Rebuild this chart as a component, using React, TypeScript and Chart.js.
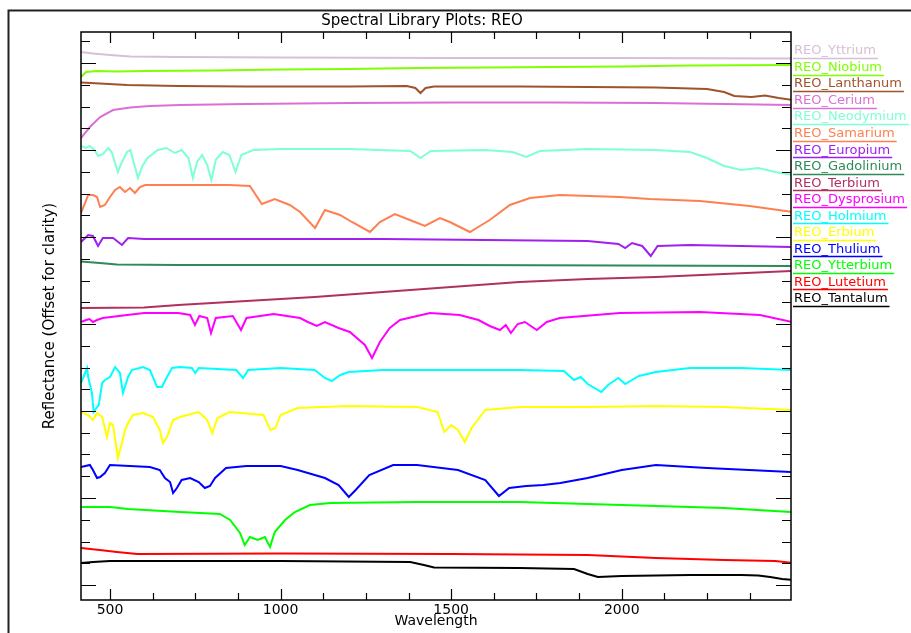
import { useEffect, useRef } from "react";
import { Chart, registerables } from "chart.js";

Chart.register(...registerables);

const FONT = "'DejaVu Sans', sans-serif";

const seriesNames = [
  "REO_Yttrium", "REO_Niobium", "REO_Lanthanum", "REO_Cerium",
  "REO_Neodymium", "REO_Samarium", "REO_Europium", "REO_Gadolinium",
  "REO_Terbium", "REO_Dysprosium", "REO_Holmium", "REO_Erbium",
  "REO_Thulium", "REO_Ytterbium", "REO_Lutetium", "REO_Tantalum",
];

const seriesColors = [
  "#d8bfd8", "#7fff00", "#a0522d", "#da70d6",
  "#7fffd4", "#ff7f50", "#a020f0", "#2e8b57",
  "#b03060", "#ff00ff", "#00ffff", "#ffff00",
  "#0000ff", "#00ff00", "#ff0000", "#000000",
];

const xTickLabels = [500, 1000, 1500, 2000];
const xMinorStep = 125;
const xMin = 415;
const xMax = 2496;
const yMin = 0;
const yMax = 56.8;
const yTickStart = 1.5;
const yMinorStep = 2.175;
const yMajorEvery = 4;

type Pt = [number, number];

const yttrium: Pt[] = [[415, 54.8], [450, 54.65], [500, 54.5], [560, 54.35], [700, 54.3], [1000, 54.25], [1500, 54.2], [2000, 54.2], [2500, 54.15]];
const niobium: Pt[] = [[415, 52.3], [430, 52.8], [460, 52.9], [520, 52.85], [600, 52.9], [800, 52.95], [1000, 53.05], [1200, 53.1], [1400, 53.2], [1600, 53.25], [1800, 53.3], [2000, 53.35], [2200, 53.45], [2500, 53.5]];
const lanthanum: Pt[] = [[415, 51.75], [470, 51.65], [550, 51.5], [700, 51.4], [900, 51.35], [1200, 51.35], [1370, 51.4], [1395, 51.2], [1410, 50.7], [1425, 51.2], [1450, 51.35], [1700, 51.35], [1900, 51.3], [2100, 51.25], [2250, 51.1], [2300, 50.8], [2330, 50.4], [2380, 50.3], [2420, 50.45], [2460, 50.2], [2500, 50.0]];
const cerium: Pt[] = [[415, 46.2], [441, 47.3], [471, 48.3], [509, 49.0], [559, 49.25], [617, 49.4], [705, 49.5], [900, 49.6], [1200, 49.7], [1500, 49.75], [1800, 49.75], [2100, 49.7], [2300, 49.6], [2500, 49.5]];
const neodymium: Pt[] = [[415, 45.4], [430, 45.2], [440, 45.4], [455, 45.0], [465, 44.4], [480, 44.6], [495, 45.2], [505, 44.8], [512, 44.0], [523, 42.8], [535, 43.8], [550, 44.8], [560, 45.0], [570, 43.7], [582, 42.2], [595, 43.4], [610, 44.2], [640, 45.0], [665, 45.2], [690, 44.7], [710, 45.0], [730, 44.2], [743, 42.2], [755, 43.8], [770, 44.5], [785, 43.5], [797, 42.0], [810, 44.0], [830, 44.8], [850, 44.5], [868, 42.8], [885, 44.5], [920, 45.0], [1000, 45.1], [1200, 45.1], [1380, 44.9], [1410, 44.2], [1440, 44.9], [1600, 45.0], [1680, 44.8], [1720, 44.3], [1760, 44.9], [1900, 45.1], [2100, 45.0], [2200, 44.8], [2250, 44.2], [2300, 43.4], [2350, 43.0], [2400, 43.2], [2450, 42.8], [2500, 42.5]];
const samarium: Pt[] = [[415, 38.7], [427, 39.7], [436, 40.5], [450, 40.5], [462, 40.3], [471, 39.3], [485, 39.5], [500, 40.3], [515, 41.0], [529, 41.3], [544, 40.8], [559, 41.2], [573, 40.7], [588, 41.3], [603, 41.5], [700, 41.5], [850, 41.5], [910, 41.4], [945, 39.6], [983, 40.1], [1027, 39.5], [1057, 38.8], [1101, 37.2], [1130, 39.0], [1174, 38.5], [1209, 37.8], [1262, 36.8], [1291, 37.8], [1335, 38.6], [1379, 38.0], [1423, 37.4], [1467, 38.2], [1496, 37.8], [1555, 36.8], [1584, 37.4], [1613, 38.0], [1672, 39.5], [1731, 40.2], [1818, 40.5], [1994, 40.3], [2082, 40.1], [2229, 39.9], [2375, 39.4], [2500, 38.8]];
const europium: Pt[] = [[415, 35.8], [436, 36.5], [450, 36.4], [465, 35.4], [479, 36.2], [509, 36.2], [535, 35.5], [553, 36.2], [600, 36.1], [700, 36.1], [1000, 36.1], [1300, 36.1], [1600, 36.0], [1900, 35.9], [1990, 35.6], [2010, 35.2], [2030, 35.7], [2060, 35.4], [2085, 34.4], [2105, 35.4], [2200, 35.5], [2350, 35.4], [2500, 35.3]];
const gadolinium: Pt[] = [[415, 33.85], [470, 33.7], [520, 33.55], [700, 33.5], [1000, 33.5], [1500, 33.5], [2000, 33.45], [2500, 33.4]];
const terbium: Pt[] = [[415, 29.2], [600, 29.25], [700, 29.5], [900, 29.9], [1100, 30.3], [1300, 30.8], [1500, 31.3], [1700, 31.8], [1900, 32.1], [2100, 32.3], [2300, 32.6], [2500, 32.9]];
const dysprosium: Pt[] = [[415, 27.8], [430, 28.0], [440, 28.1], [450, 27.8], [462, 28.0], [479, 28.2], [550, 28.5], [600, 28.7], [700, 28.7], [735, 28.5], [749, 27.5], [762, 28.4], [785, 28.2], [796, 26.7], [810, 28.2], [860, 28.4], [884, 27.0], [900, 28.2], [980, 28.6], [1057, 28.2], [1080, 27.8], [1106, 27.4], [1130, 27.8], [1170, 27.2], [1203, 26.8], [1247, 25.5], [1268, 24.2], [1291, 25.8], [1320, 27.2], [1350, 28.0], [1438, 28.7], [1525, 28.5], [1580, 28.0], [1613, 27.4], [1643, 27.0], [1660, 27.5], [1675, 26.7], [1695, 27.6], [1716, 27.8], [1751, 27.0], [1780, 27.8], [1818, 28.2], [1994, 28.7], [2229, 28.8], [2405, 28.5], [2500, 27.8]];
const holmium: Pt[] = [[415, 21.7], [433, 23.2], [436, 22.3], [447, 20.7], [452, 18.8], [462, 19.3], [467, 19.5], [477, 21.7], [485, 22.0], [500, 22.3], [515, 23.3], [529, 22.7], [538, 20.7], [553, 22.3], [564, 23.0], [597, 23.3], [617, 23.0], [638, 21.3], [652, 21.3], [667, 22.3], [682, 23.2], [705, 23.3], [740, 23.2], [750, 22.7], [760, 23.2], [870, 23.0], [890, 22.2], [905, 23.0], [1000, 23.2], [1100, 23.0], [1130, 22.2], [1150, 21.9], [1175, 22.5], [1200, 22.8], [1300, 23.0], [1500, 23.0], [1700, 23.0], [1830, 22.9], [1860, 22.0], [1880, 22.3], [1900, 21.6], [1940, 20.8], [1960, 21.5], [1990, 22.2], [2010, 21.6], [2050, 22.4], [2100, 22.8], [2200, 23.2], [2350, 23.2], [2500, 23.0]];
const erbium: Pt[] = [[415, 18.8], [436, 18.5], [450, 18.0], [462, 18.7], [477, 18.3], [491, 16.3], [500, 17.7], [509, 17.5], [523, 14.2], [535, 15.7], [544, 17.0], [553, 17.7], [567, 18.5], [597, 18.7], [626, 18.3], [646, 17.0], [655, 15.7], [667, 16.3], [685, 18.0], [705, 18.3], [760, 18.8], [785, 18.0], [800, 16.7], [815, 18.2], [850, 18.8], [950, 18.5], [970, 17.0], [985, 17.2], [1000, 18.5], [1050, 19.2], [1200, 19.4], [1400, 19.3], [1460, 18.8], [1480, 16.8], [1500, 17.5], [1520, 17.0], [1540, 15.8], [1560, 17.2], [1600, 19.0], [1700, 19.3], [1900, 19.3], [2100, 19.4], [2300, 19.3], [2500, 19.0]];
const thulium: Pt[] = [[415, 13.3], [441, 13.5], [450, 13.0], [462, 12.2], [471, 12.3], [485, 12.7], [500, 13.5], [617, 13.3], [646, 13.0], [661, 12.2], [676, 11.8], [685, 10.7], [696, 11.2], [710, 12.0], [735, 12.2], [760, 11.8], [778, 11.2], [793, 11.4], [808, 12.2], [840, 13.2], [900, 13.4], [1000, 13.4], [1050, 13.0], [1130, 12.2], [1170, 11.5], [1200, 10.3], [1220, 11.0], [1260, 12.5], [1330, 13.5], [1400, 13.5], [1520, 13.0], [1600, 12.0], [1640, 10.4], [1670, 11.2], [1720, 11.4], [1770, 11.5], [1820, 11.7], [1900, 12.2], [2000, 13.0], [2100, 13.5], [2250, 13.2], [2500, 12.8]];
const ytterbium: Pt[] = [[415, 9.3], [500, 9.3], [553, 9.1], [705, 8.8], [822, 8.6], [852, 8.0], [881, 6.7], [895, 5.5], [910, 6.3], [933, 6.0], [954, 6.3], [969, 5.3], [983, 6.8], [1013, 8.0], [1042, 8.8], [1086, 9.5], [1145, 9.7], [1400, 9.8], [1700, 9.8], [2000, 9.5], [2300, 9.2], [2500, 8.8]];
const lutetium: Pt[] = [[415, 5.2], [470, 5.0], [520, 4.8], [580, 4.6], [1000, 4.65], [1500, 4.6], [1900, 4.5], [2100, 4.2], [2300, 4.0], [2450, 3.9], [2500, 3.7]];
const tantalum: Pt[] = [[415, 3.7], [450, 3.8], [500, 3.9], [1000, 3.9], [1380, 3.8], [1420, 3.5], [1450, 3.25], [1700, 3.2], [1860, 3.1], [1900, 2.6], [1930, 2.3], [2000, 2.4], [2200, 2.5], [2350, 2.5], [2400, 2.45], [2435, 2.3], [2470, 2.1], [2500, 2.0]];

const seriesData: Pt[][] = [
  yttrium, niobium, lanthanum, cerium, neodymium, samarium, europium, gadolinium,
  terbium, dysprosium, holmium, erbium, thulium, ytterbium, lutetium, tantalum,
];

const decorPlugin = {
  id: "decor",
  afterDraw(chart: any) {
    const { ctx, chartArea: a, scales } = chart;
    const xs = scales.x;
    const ys = scales.y;
    ctx.save();
    // outer window frame
    ctx.strokeStyle = "#222";
    ctx.lineWidth = 2;
    ctx.beginPath();
    ctx.moveTo(8.5, 700);
    ctx.lineTo(8.5, 10.5);
    ctx.lineTo(1000, 10.5);
    ctx.stroke();
    // plot box
    ctx.strokeStyle = "#000";
    ctx.lineWidth = 1.5;
    ctx.strokeRect(a.left, a.top, a.right - a.left, a.bottom - a.top);
    // x ticks (inward, top and bottom)
    ctx.lineWidth = 1.2;
    ctx.beginPath();
    for (let v = xTickLabels[0]; v <= xMax; v += xMinorStep) {
      const px = Math.round(xs.getPixelForValue(v)) + 0.5;
      const len = v % 500 === 0 ? 11 : 7;
      ctx.moveTo(px, a.bottom);
      ctx.lineTo(px, a.bottom - len);
      ctx.moveTo(px, a.top);
      ctx.lineTo(px, a.top + len);
    }
    // y ticks (inward, left and right)
    for (let k = 0; yTickStart + k * yMinorStep <= yMax; k++) {
      const v = yTickStart + k * yMinorStep;
      const py = Math.round(ys.getPixelForValue(v)) + 0.5;
      const len = k % yMajorEvery === 0 ? 15 : 9;
      ctx.moveTo(a.left, py);
      ctx.lineTo(a.left + len, py);
      ctx.moveTo(a.right, py);
      ctx.lineTo(a.right - len, py);
    }
    ctx.stroke();
    // legend
    ctx.font = `13px ${FONT}`;
    ctx.textBaseline = "middle";
    ctx.textAlign = "left";
    seriesNames.forEach((name, i) => {
      const cy = a.top + 19 + i * 16.53;
      const tx = a.right + 3;
      ctx.fillStyle = seriesColors[i];
      ctx.fillText(name, tx, cy);
      const w = ctx.measureText(name).width;
      ctx.strokeStyle = seriesColors[i];
      ctx.lineWidth = 1.5;
      ctx.beginPath();
      ctx.moveTo(tx - 1, Math.round(cy + 7) + 0.5);
      ctx.lineTo(tx + w + 2, Math.round(cy + 7) + 0.5);
      ctx.stroke();
    });
    ctx.restore();
  },
};

export default function App() {
  const ref = useRef<HTMLCanvasElement>(null);
  useEffect(() => {
    document.body.style.margin = "0";
    document.documentElement.style.overflow = "hidden";
    const chart = new Chart(ref.current as HTMLCanvasElement, {
      type: "line",
      data: {
        datasets: seriesData.map((d, i) => ({
          label: seriesNames[i],
          data: d.map(([x, y]) => ({ x, y })),
          borderColor: seriesColors[i],
          backgroundColor: seriesColors[i],
          borderWidth: 2,
          pointRadius: 0,
          fill: false,
          tension: 0,
        })),
      },
      options: {
        responsive: false,
        animation: false,
        events: [],
        layout: { padding: { left: 53, right: 120, top: 0, bottom: 0 } },
        plugins: {
          legend: { display: false },
          tooltip: { enabled: false },
          title: {
            display: true,
            text: "Spectral Library Plots: REO",
            color: "#000",
            font: { family: FONT, size: 15, weight: "normal" },
            padding: { top: 12.5, bottom: 1.5 },
          },
        },
        scales: {
          x: {
            type: "linear",
            min: xMin,
            max: xMax,
            grid: { display: false, drawTicks: false },
            border: { display: false },
            ticks: {
              color: "#000",
              font: { family: FONT, size: 14 },
              padding: 2,
              maxRotation: 0,
              autoSkip: false,
              callback: (v: any) => String(v),
            },
            afterBuildTicks: (s: any) => {
              s.ticks = xTickLabels.map((v) => ({ value: v }));
            },
            afterFit: (s: any) => {
              s.height = 33;
            },
            title: {
              display: true,
              text: "Wavelength",
              color: "#000",
              font: { family: FONT, size: 14 },
              padding: { top: 0, bottom: 3.6 },
            },
          },
          y: {
            type: "linear",
            min: yMin,
            max: yMax,
            grid: { display: false, drawTicks: false },
            border: { display: false },
            ticks: { display: false },
            afterFit: (s: any) => {
              s.width = 28;
            },
            title: {
              display: true,
              text: "Reflectance (Offset for clarity)",
              color: "#000",
              font: { family: FONT, size: 15 },
              padding: { top: -12, bottom: 0 },
            },
          },
        },
      } as any,
      plugins: [decorPlugin],
    });
    return () => chart.destroy();
  }, []);
  return (
    <div style={{ width: 911, height: 633, background: "#fff" }}>
      <canvas ref={ref} width={911} height={633} style={{ display: "block" }} />
    </div>
  );
}
